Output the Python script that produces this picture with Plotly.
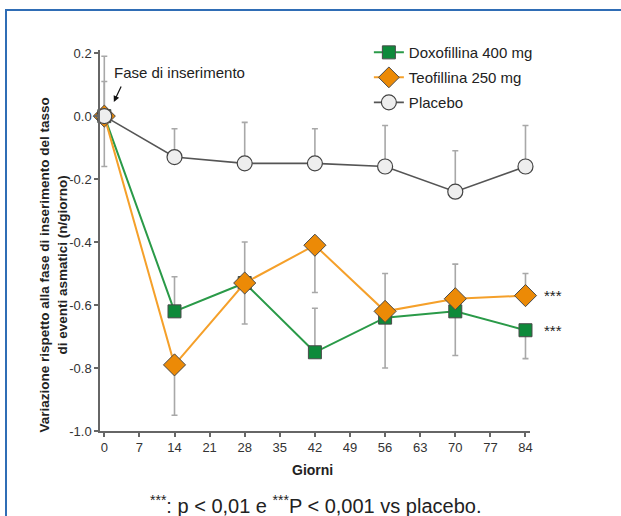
import plotly.graph_objects as go

# ---- data ----
giorni = [0, 14, 28, 42, 56, 70, 84]

doxo = [0.0, -0.62, -0.53, -0.75, -0.64, -0.62, -0.68]
doxo_err_plus = [0.0, 0.11, 0.0, 0.14, 0.0, 0.0, 0.0]
doxo_err_minus = [0.16, 0.0, 0.13, 0.0, 0.16, 0.14, 0.09]

teo = [0.0, -0.79, -0.53, -0.41, -0.62, -0.58, -0.57]
teo_err_plus = [0.11, 0.0, 0.13, 0.0, 0.12, 0.11, 0.07]
teo_err_minus = [0.0, 0.16, 0.0, 0.15, 0.0, 0.0, 0.0]

placebo = [0.0, -0.13, -0.15, -0.15, -0.16, -0.24, -0.16]
placebo_err_plus = [0.19, 0.09, 0.13, 0.11, 0.13, 0.13, 0.13]
placebo_err_minus = [0.0, 0.0, 0.0, 0.0, 0.0, 0.0, 0.0]

x_ticks = list(range(0, 85, 7))
y_ticks = [0.2, 0.0, -0.2, -0.4, -0.6, -0.8, -1.0]
y_tick_labels = ["0.2", "0.0", "-0.2", "-0.4", "-0.6", "-0.8", "-1.0"]
signif_labels = ["***", "***"]

names = ["Doxofillina 400 mg", "Teofillina 250 mg", "Placebo"]

FONT = "Liberation Sans, Arial, sans-serif"
ERR_COLOR = "#a8a8a8"

fig = go.Figure()

# error bars first (underneath everything)
for vals, ep, em in [(doxo, doxo_err_plus, doxo_err_minus),
                     (teo, teo_err_plus, teo_err_minus),
                     (placebo, placebo_err_plus, placebo_err_minus)]:
    fig.add_trace(go.Scatter(
        x=giorni, y=vals, mode="markers", cliponaxis=False,
        marker=dict(size=1, opacity=0),
        error_y=dict(type="data", symmetric=False, array=ep, arrayminus=em,
                     color=ERR_COLOR, thickness=1.6, width=3),
        showlegend=False, hoverinfo="skip"))

fig.add_trace(go.Scatter(
    x=giorni, y=doxo, name=names[0], mode="lines+markers", legendgroup="d",
    cliponaxis=False,
    line=dict(color="#2a9a48", width=2),
    marker=dict(symbol="square", size=13, color="#0e8a3a",
                line=dict(color="#4a4a4a", width=1))))

fig.add_trace(go.Scatter(
    x=giorni, y=teo, name=names[1], mode="lines+markers", legendgroup="t",
    cliponaxis=False,
    line=dict(color="#f5a02a", width=2),
    marker=dict(symbol="diamond", size=17, color="#ec8a06",
                line=dict(color="#4a4a4a", width=1))))

fig.add_trace(go.Scatter(
    x=giorni, y=placebo, name=names[2], mode="lines+markers", legendgroup="p",
    cliponaxis=False,
    line=dict(color="#555555", width=1.6),
    marker=dict(symbol="circle", size=15, color="#eeeeee",
                line=dict(color="#444444", width=1.2))))

annotations = [
    # y axis title
    dict(text="<b>Variazione rispetto alla fase di inserimento del tasso<br>di eventi asmatici (n/giorno)</b>",
         xref="paper", yref="paper", x=-0.107, y=0.437, textangle=-90,
         showarrow=False, font=dict(size=13.5, color="#222", family=FONT),
         xanchor="center", yanchor="middle"),
    # x axis title
    dict(text="<b>Giorni</b>", xref="paper", yref="paper", x=0.495, y=-0.102,
         showarrow=False, font=dict(size=14, color="#222", family=FONT),
         xanchor="center", yanchor="middle"),
    # footnote
    dict(text="<sup>***</sup>: p < 0,01 e <sup>***</sup>P < 0,001 vs placebo.",
         xref="paper", yref="paper", x=0.5, y=-0.192, showarrow=False,
         font=dict(size=20, color="#222", family=FONT),
         xanchor="center", yanchor="middle"),
    # phase annotation text
    dict(text="Fase di inserimento", xref="x", yref="y", x=1.5, y=0.137,
         showarrow=False, xanchor="left", yanchor="middle",
         font=dict(size=15, color="#222", family=FONT)),
    # arrow
    dict(text="", xref="x", yref="y", x=1.9, y=0.045, ax=8, ay=-17,
         showarrow=True, arrowhead=2, arrowsize=1, arrowwidth=1.2,
         arrowcolor="#111"),
]
# significance markers at the last point
for lab, vals in zip(signif_labels, [teo, doxo]):
    annotations.append(dict(text=lab, xref="x", yref="y", x=giorni[-1], y=vals[-1],
                            xshift=28, showarrow=False,
                            font=dict(size=15, color="#222", family=FONT),
                            xanchor="center", yanchor="middle"))
fig.update_layout(annotations=annotations)

# blue frame (left and top lines)
fig.add_shape(type="path", xref="paper", yref="paper",
              path="M -0.2186,-0.3 L -0.2186,1.105 L 1.3,1.105",
              line=dict(color="#2f6db5", width=2))

fig.update_xaxes(range=[-0.86, 84.9], tickvals=x_ticks, ticks="outside",
                 ticklen=4, tickwidth=1.5, tickcolor="#666",
                 showline=True, linecolor="#666", linewidth=1.5,
                 showgrid=False, zeroline=False, automargin=False,
                 tickfont=dict(size=13, color="#333", family=FONT))
fig.update_yaxes(range=[-1.0, 0.21], tickvals=y_ticks, ticktext=y_tick_labels,
                 ticks="outside", ticklen=4, tickwidth=1.5, tickcolor="#666",
                 showline=True, linecolor="#666", linewidth=1.5,
                 showgrid=False, zeroline=False, automargin=False,
                 tickfont=dict(size=13, color="#333", family=FONT))

fig.update_layout(
    width=621, height=516,
    margin=dict(l=100, r=91, t=50, b=85, autoexpand=False),
    paper_bgcolor="white", plot_bgcolor="white",
    font=dict(family=FONT, color="#222"),
    legend=dict(xref="container", yref="container", x=0.594, y=0.93,
                xanchor="left", yanchor="top",
                bgcolor="rgba(0,0,0,0)", font=dict(size=15, color="#222", family=FONT),
                tracegroupgap=2.5, itemsizing="trace"),
)

fig.write_html("out.html", config={"displayModeBar": False},
               post_script="document.body.style.margin='0px';document.body.style.overflow='hidden';")
